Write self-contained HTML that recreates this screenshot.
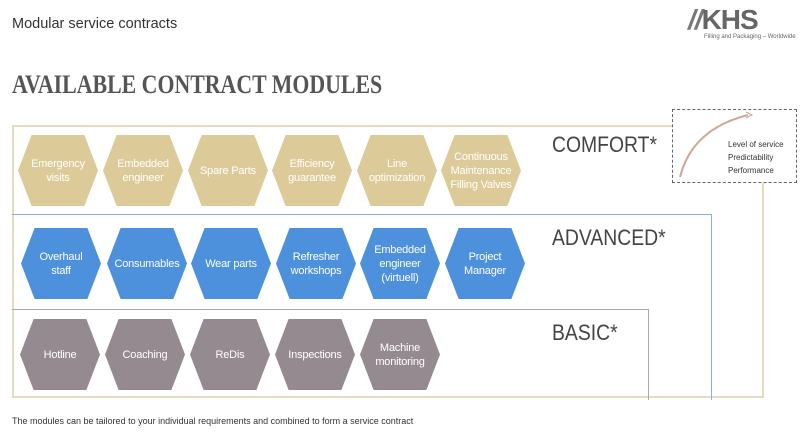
<!DOCTYPE html>
<html><head><style>
body{margin:0;width:800px;height:438px;background:#fff;position:relative;overflow:hidden;font-family:"Liberation Sans",sans-serif;}
.a{position:absolute;}
.hex{position:absolute;width:80px;height:71px;clip-path:polygon(17% 0,83% 0,100% 50%,83% 100%,17% 100%,0 50%);display:flex;align-items:center;justify-content:center;text-align:center;color:#fff;font-size:11px;line-height:14px;letter-spacing:-0.2px;}
.c{background:#dccb99;top:135px;}
.b{background:#4d91dc;top:228px;}
.g{background:#968a91;top:319px;}
.lvl{font-size:22px;color:#444;transform:scaleX(0.88);transform-origin:0 0;}
</style></head><body>
<div class="a" style="left:12px;top:16px;font-size:14.5px;color:#333;">Modular service contracts</div>
<div class="a" style="left:688px;top:4px;font-size:28px;font-weight:bold;color:#666;letter-spacing:-1px;"><span style="font-style:italic;color:#777">//</span>KHS</div>
<div class="a" style="left:704px;top:34px;font-size:6px;color:#666;">Filling and Packaging – Worldwide</div>
<div class="a" style="left:12px;top:70px;font-family:'Liberation Serif',serif;font-weight:bold;font-size:26px;color:#555;transform:scaleX(0.84);transform-origin:0 0;white-space:nowrap;">AVAILABLE CONTRACT MODULES</div>

<div class="a" style="left:12px;top:125px;width:752px;height:273px;border:2px solid #e4dcbc;box-sizing:border-box;"></div>
<div class="a" style="left:12px;top:214px;width:699px;height:185px;border:1px solid #8bb0de;border-left:none;border-bottom:none;"></div>
<div class="a" style="left:12px;top:309px;width:636px;height:90px;border:1px solid #aaa;border-left:none;border-bottom:none;"></div>

<div class="a lvl" style="left:552px;top:132px;">COMFORT*</div>
<div class="a lvl" style="left:552px;top:225px;">ADVANCED*</div>
<div class="a lvl" style="left:552px;top:320px;">BASIC*</div>

<div class="a" style="left:672px;top:109px;width:125px;height:74px;border:1px dashed #666;box-sizing:border-box;background:#fff;"></div>
<svg class="a" style="left:672px;top:109px" width="125" height="74"><path d="M8 68 Q20 20 76 6" stroke="#c9a99a" stroke-width="2" fill="none"/><path d="M74 3 L80 6 L74 9" stroke="#c9a99a" fill="none"/></svg>
<div class="a" style="left:728px;top:138px;font-size:8px;line-height:13px;color:#333;">Level of service<br>Predictability<br>Performance</div>

<div class="hex c" style="left:18px">Emergency<br>visits</div>
<div class="hex c" style="left:103px">Embedded<br>engineer</div>
<div class="hex c" style="left:188px">Spare Parts</div>
<div class="hex c" style="left:272px">Efficiency<br>guarantee</div>
<div class="hex c" style="left:357px">Line<br>optimization</div>
<div class="hex c" style="left:441px">Continuous<br>Maintenance<br>Filling Valves</div>

<div class="hex b" style="left:21px">Overhaul<br>staff</div>
<div class="hex b" style="left:107px">Consumables</div>
<div class="hex b" style="left:191px">Wear parts</div>
<div class="hex b" style="left:276px">Refresher<br>workshops</div>
<div class="hex b" style="left:360px">Embedded<br>engineer<br>(virtuell)</div>
<div class="hex b" style="left:445px">Project<br>Manager</div>

<div class="hex g" style="left:20px">Hotline</div>
<div class="hex g" style="left:105px">Coaching</div>
<div class="hex g" style="left:190px">ReDis</div>
<div class="hex g" style="left:275px">Inspections</div>
<div class="hex g" style="left:360px">Machine<br>monitoring</div>

<div class="a" style="left:12px;top:416px;font-size:9px;color:#333;">The modules can be tailored to your individual requirements and combined to form a service contract</div>
</body></html>
